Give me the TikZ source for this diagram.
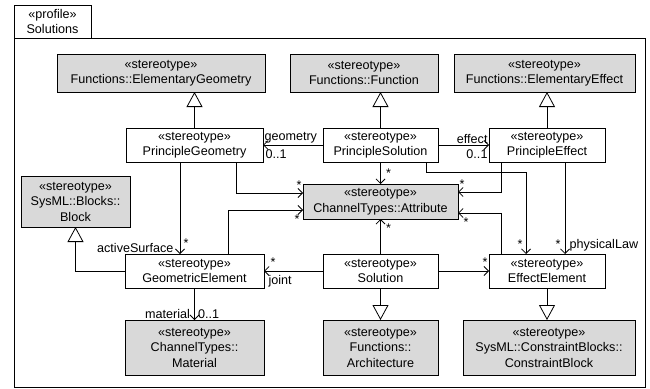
\documentclass[tikz,border=0pt]{standalone}
\usepackage{fontspec}
\setmainfont{Liberation Sans}
\usetikzlibrary{arrows.meta}

\begin{document}
\begin{tikzpicture}[x=1pt, y=-1pt, line width=0.8pt,
  every node/.style={font=\fontsize{12.6}{15.5}\selectfont, align=center, inner sep=0pt, outer sep=0pt},
  stereo/.style={draw, fill=white, minimum height=34pt},
  meta/.style={draw, fill=black!15},
  assoc/.style={-{Straight Barb[length=4.5pt,width=9pt,line width=0.8pt]}},
  gen/.style={-{Triangle[length=15pt,width=16pt,fill=white,line width=0.8pt]}},
  mult/.style={inner sep=1.5pt}]
\useasboundingbox (0,0) rectangle (650,388);

\draw (14,38) rectangle (645,387);
\node[draw, minimum width=77pt, minimum height=33pt] (profile) at (52.5,21.5) {«profile»\\Solutions};

\node[meta, minimum width=208pt, minimum height=38pt] (egeo) at (161,73) {«stereotype»\\Functions::ElementaryGeometry};
\node[meta, minimum width=148pt, minimum height=38pt] (func) at (364,73) {«stereotype»\\Functions::Function};
\node[meta, minimum width=181pt, minimum height=38pt] (eeff) at (544.5,73) {«stereotype»\\Functions::ElementaryEffect};

\node[stereo, minimum width=137pt] (pgeo) at (194.5,145) {«stereotype»\\PrincipleGeometry};
\node[stereo, minimum width=115pt] (psol) at (380.5,145) {«stereotype»\\PrincipleSolution};
\node[stereo, minimum width=116pt] (peff) at (547,145) {«stereotype»\\PrincipleEffect};

\node[meta, minimum width=109pt, minimum height=51pt] (block) at (75.5,201.5) {«stereotype»\\SysML::Blocks::\\Block};
\node[meta, minimum width=155pt, minimum height=35pt] (attr) at (380.5,201.5) {«stereotype»\\ChannelTypes::Attribute};

\node[stereo, minimum width=139pt] (gele) at (194.5,271) {«stereotype»\\GeometricElement};
\node[stereo, minimum width=115pt] (sol) at (380.5,271) {«stereotype»\\Solution};
\node[stereo, minimum width=116pt] (eele) at (547,271) {«stereotype»\\EffectElement};

\node[meta, minimum width=139pt, minimum height=55pt] (mat) at (194.5,347.5) {«stereotype»\\ChannelTypes::\\Material};
\node[meta, minimum width=115pt, minimum height=55pt] (arch) at (380.5,347.5) {«stereotype»\\Functions::\\Architecture};
\node[meta, minimum width=172pt, minimum height=55pt] (cblock) at (549,347.5) {«stereotype»\\SysML::ConstraintBlocks::\\ConstraintBlock};

\draw[gen] (pgeo.north) -- (pgeo.north |- egeo.south);
\draw[gen] (psol.north) -- (psol.north |- func.south);
\draw[gen] (peff.north) -- (peff.north |- eeff.south);
\draw[gen] (gele.west) -| (block.south);
\draw[gen] (sol.south) -- (arch.north);
\draw[gen] (eele.south) -- (eele.south |- cblock.north);

\draw[assoc] (psol.west) -- (pgeo.east)
  node[pos=1, anchor=south west, mult] {geometry}
  node[pos=1, anchor=north west, mult, xshift=1pt, yshift=-3pt] {0..1};
\draw[assoc] (psol.east) -- (peff.west)
  node[pos=1, anchor=south east, mult] {effect}
  node[pos=1, anchor=north east, mult, yshift=-3pt] {0..1};
\draw[assoc] (psol.south) -- (attr.north)
  node[pos=0.5, anchor=west, mult, xshift=4pt] {*};
\draw[assoc] ([xshift=41.5pt]pgeo.south) |- ([yshift=8.5pt]attr.west)
  node[pos=1, anchor=south east, mult, yshift=2pt] {*};
\draw[assoc] ([xshift=33.5pt]gele.north) |- ([yshift=-8.5pt]attr.west)
  node[pos=1, anchor=north east, mult, xshift=-2pt, yshift=-3pt] {*};
\draw[assoc] ([xshift=-14.5pt]pgeo.south) -- ([xshift=-14.5pt]gele.north)
  node[pos=1, anchor=south east, mult, xshift=-5pt] {activeSurface}
  node[pos=1, anchor=south west, mult, xshift=2pt, yshift=5pt] {*};
\draw[assoc] (gele.south) -- (mat.north)
  node[pos=1, anchor=south east, mult, xshift=-3pt] {material}
  node[pos=1, anchor=south west, mult, xshift=2pt] {0..1};
\draw[assoc] (sol.west) -- (gele.east)
  node[pos=1, anchor=south west, mult, xshift=5pt, yshift=3pt] {*}
  node[pos=1, anchor=north west, mult, xshift=3pt, yshift=-3pt] {joint};
\draw[assoc] (sol.north) -- (attr.south)
  node[pos=0.75, anchor=west, mult, xshift=4pt] {*};
\draw[assoc] (sol.east) -- (eele.west)
  node[pos=1, anchor=south east, mult, yshift=3pt] {*};
\draw[assoc] ([xshift=45.5pt]psol.south) -- ++(0,10) -| ([xshift=-21pt]eele.north)
  node[pos=1, anchor=south east, mult, xshift=-2pt, yshift=4pt] {*};
\draw[assoc] ([xshift=-46pt]peff.south) |- ([yshift=9.5pt]attr.east)
  node[pos=1, anchor=south west, mult, yshift=2pt] {*};
\draw[assoc] ([xshift=-46pt]eele.north) |- ([yshift=-11.5pt]attr.east)
  node[pos=1, anchor=north west, mult, xshift=4pt, yshift=-3pt] {*};
\draw[assoc] ([xshift=18pt]peff.south) -- ([xshift=18pt]eele.north)
  node[pos=1, anchor=south east, mult, xshift=-3pt, yshift=4pt] {*}
  node[pos=1, anchor=south west, mult, xshift=3pt, yshift=1pt] {physicalLaw};
\end{tikzpicture}
\end{document}
